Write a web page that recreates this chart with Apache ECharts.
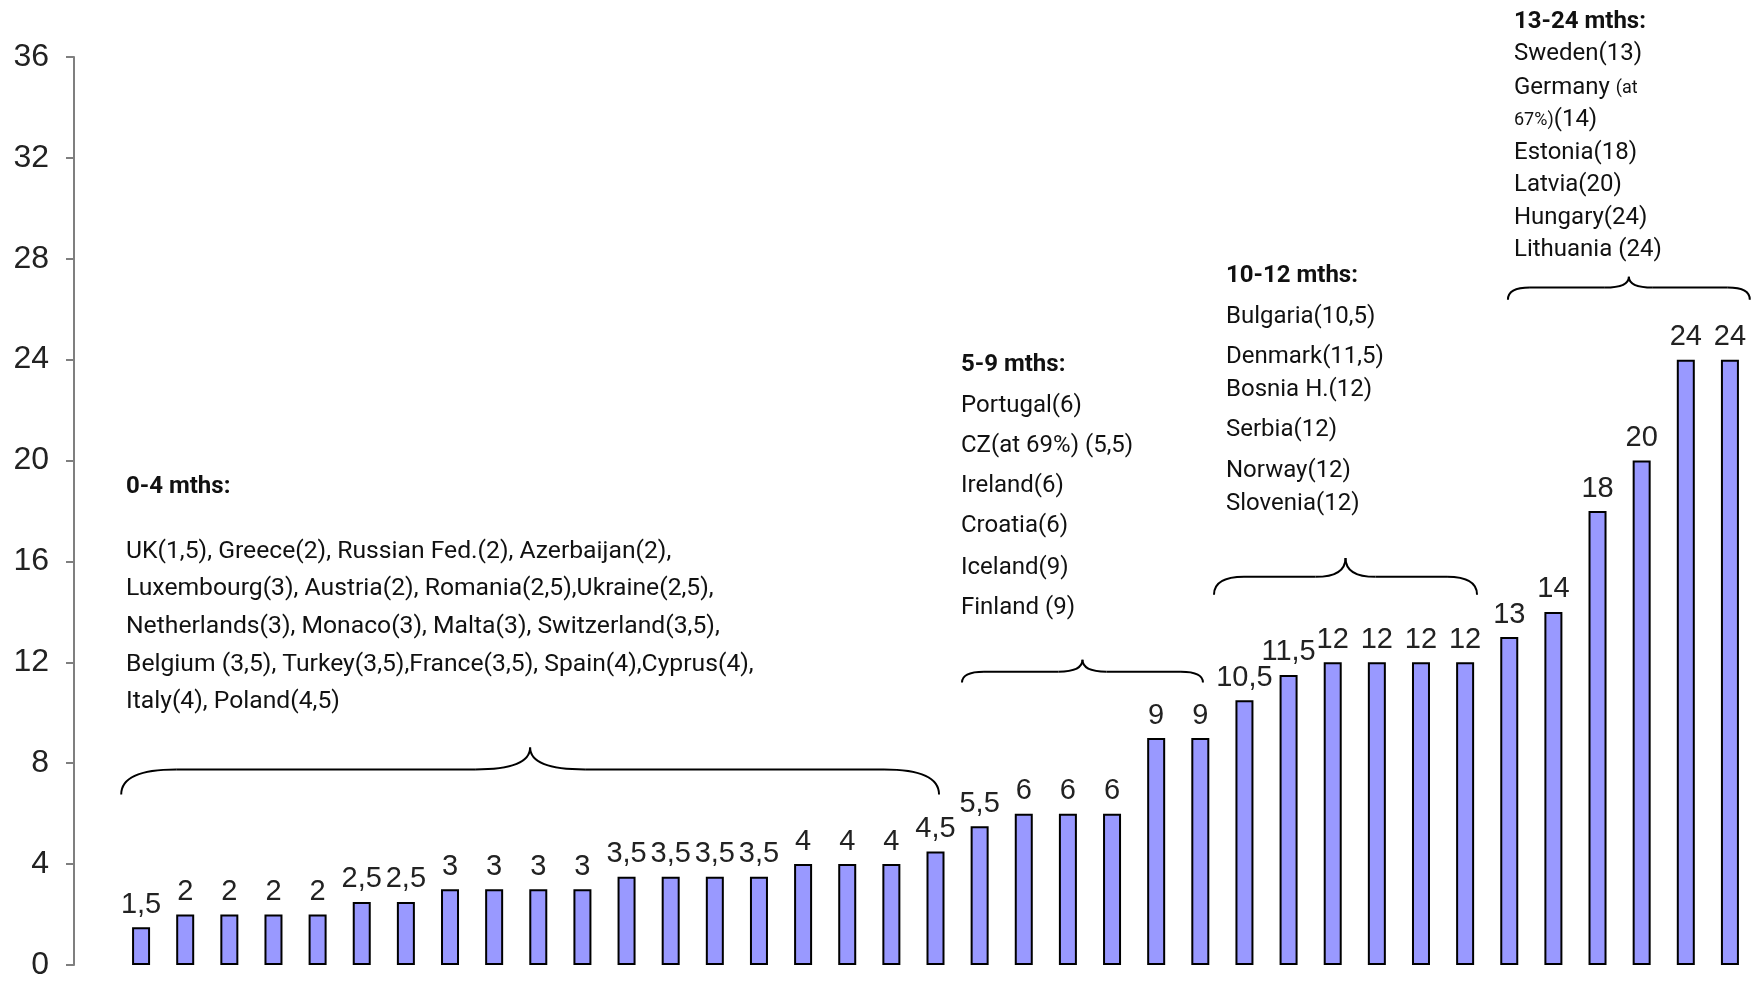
<!DOCTYPE html>
<html>
<head>
<meta charset="utf-8">
<script src="https://cdn.jsdelivr.net/npm/echarts@6/dist/echarts.min.js"></script>
<style>
html,body{margin:0;padding:0;background:#fff;}
#chart{width:1753px;height:981px;}
</style>
</head>
<body>
<div id="chart"></div>
<script>
// ---- data ----
const categories = ['UK','Greece','Russian Fed.','Azerbaijan','Austria','Romania','Ukraine','Luxembourg','Netherlands','Monaco','Malta','Switzerland','Belgium','Turkey','France','Spain','Cyprus','Italy','Poland','CZ','Portugal','Ireland','Croatia','Iceland','Finland','Bulgaria','Denmark','Bosnia H.','Serbia','Norway','Slovenia','Sweden','Germany','Estonia','Latvia','Hungary','Lithuania'];
const months = [1.5,2,2,2,2,2.5,2.5,3,3,3,3,3.5,3.5,3.5,3.5,4,4,4,4.5,5.5,6,6,6,9,9,10.5,11.5,12,12,12,12,13,14,18,20,24,24];
const yTicks = [0,4,8,12,16,20,24,28,32,36];

const group04Title = '0-4 mths:';
const group04Lines = [
  'UK(1,5), Greece(2), Russian Fed.(2), Azerbaijan(2),',
  'Luxembourg(3), Austria(2), Romania(2,5),Ukraine(2,5),',
  'Netherlands(3), Monaco(3), Malta(3), Switzerland(3,5),',
  'Belgium (3,5), Turkey(3,5),France(3,5), Spain(4),Cyprus(4),',
  'Italy(4), Poland(4,5)'
];
const group59Title = '5-9 mths:';
const group59Lines = ['Portugal(6)','CZ(at 69%) (5,5)','Ireland(6)','Croatia(6)','Iceland(9)','Finland (9)'];
const group1012Title = '10-12 mths:';
const group1012Lines = ['Bulgaria(10,5)','Denmark(11,5)','Bosnia H.(12)','Serbia(12)','Norway(12)','Slovenia(12)'];
const group1324Title = '13-24 mths:';
const group1324Lines = ['Sweden(13)','{s|Germany }{m|(at}','{m|67%)}{s|(14)}','Estonia(18)','Latvia(20)','Hungary(24)','Lithuania (24)'];

// brace spans: category index range and value levels (end, flat, peak)
const braces = [
  {from:-0.45, to:18.08, end:6.76, flat:7.75, peak:8.62, re:55, rc:55},
  {from:18.6, to:24.06, end:11.2, flat:11.63, peak:12.1, re:22, rc:24},
  {from:24.31, to:30.27, end:14.68, flat:15.39, peak:16.14, re:30, rc:30},
  {from:30.97, to:36.45, end:26.38, flat:26.86, peak:27.29, re:22, rc:24}
];

// ---- layout ----
const TXT_FONT = 'Roboto';
const TXT_SIZE = 24;
const textBlocks = [
  {title:group04Title, lines:group04Lines, x:126, titleY:487, ys:[552,589,627,665,702], size:24.7},
  {title:group59Title, lines:group59Lines, x:961, titleY:365, ys:[406,446,486,526,568,608], size:24},
  {title:group1012Title, lines:group1012Lines, x:1226, titleY:276, ys:[317,357,390,430,471,504], size:24},
  {title:group1324Title, lines:group1324Lines, x:1514, titleY:22, ys:[54,88,120,153,185,218,250], size:24}
];

const chart = echarts.init(document.getElementById('chart'), null, {renderer:'canvas'});
const option = {
  animation:false,
  backgroundColor:'#ffffff',
  grid:{left:119, right:1, top:57, bottom:11, containLabel:false},
  xAxis:{
    type:'category', data:categories,
    axisLine:{show:false}, axisTick:{show:false}, axisLabel:{show:false}, splitLine:{show:false}
  },
  yAxis:{
    type:'value', min:0, max:36, interval:4, offset:45,
    axisLine:{show:true, lineStyle:{color:'#7f7f7f', width:2}},
    axisTick:{show:true, inside:false, length:8, lineStyle:{color:'#7f7f7f', width:2}},
    axisLabel:{show:true, fontFamily:'Liberation Sans', fontSize:32, color:'#222', margin:25,
      formatter:v => yTicks.indexOf(v) >= 0 ? String(v) : ''},
    splitLine:{show:false}
  },
  series:[{
    type:'bar', data:months, barWidth:18,
    itemStyle:{color:'#9999ff', borderColor:'#000', borderWidth:2},
    label:{show:true, position:'top', distance:8, fontFamily:'Liberation Sans', fontSize:29, color:'#222',
      formatter:p => String(p.value).replace('.', ',')}
  }]
};
chart.setOption(option);

// build annotations
const graphics = [];
textBlocks.forEach(b => {
  graphics.push({type:'text', x:b.x, y:b.titleY, style:{
    text:b.title, fontFamily:TXT_FONT, fontSize:TXT_SIZE, fontWeight:'bold', fill:'#111',
    textAlign:'left', textVerticalAlign:'middle'}});
  b.lines.forEach((ln, i) => {
    graphics.push({type:'text', x:b.x, y:b.ys[i], style:{
      text:ln, fontFamily:TXT_FONT, fontSize:b.size, fill:'#111',
      textAlign:'left', textVerticalAlign:'middle',
      rich:{s:{fontFamily:TXT_FONT, fontSize:b.size, fill:'#111'}, m:{fontFamily:TXT_FONT, fontSize:18, fill:'#111'}}
    }});
  });
});

const p0 = chart.convertToPixel({xAxisIndex:0}, 0);
const p1 = chart.convertToPixel({xAxisIndex:0}, 1);
const band = p1 - p0;
const xOf = idx => p0 + idx * band;
const yOf = v => chart.convertToPixel({yAxisIndex:0}, v);
const stroke = {stroke:'#000', lineWidth:2, fill:null};
braces.forEach(b => {
  const x0 = xOf(b.from), x1 = xOf(b.to), xm = (x0 + x1) / 2;
  const yE = yOf(b.end), yF = yOf(b.flat), yP = yOf(b.peak);
  graphics.push({type:'bezierCurve', shape:{x1:x0, y1:yE, cpx1:x0, cpy1:yF, x2:x0 + b.re, y2:yF}, style:stroke});
  graphics.push({type:'line', shape:{x1:x0 + b.re, y1:yF, x2:xm - b.rc, y2:yF}, style:stroke});
  graphics.push({type:'bezierCurve', shape:{x1:xm - b.rc, y1:yF, cpx1:xm, cpy1:yF, x2:xm, y2:yP}, style:stroke});
  graphics.push({type:'bezierCurve', shape:{x1:xm, y1:yP, cpx1:xm, cpy1:yF, x2:xm + b.rc, y2:yF}, style:stroke});
  graphics.push({type:'line', shape:{x1:xm + b.rc, y1:yF, x2:x1 - b.re, y2:yF}, style:stroke});
  graphics.push({type:'bezierCurve', shape:{x1:x1 - b.re, y1:yF, cpx1:x1, cpy1:yF, x2:x1, y2:yE}, style:stroke});
});
chart.setOption({graphic:graphics});
</script>
</body>
</html>
